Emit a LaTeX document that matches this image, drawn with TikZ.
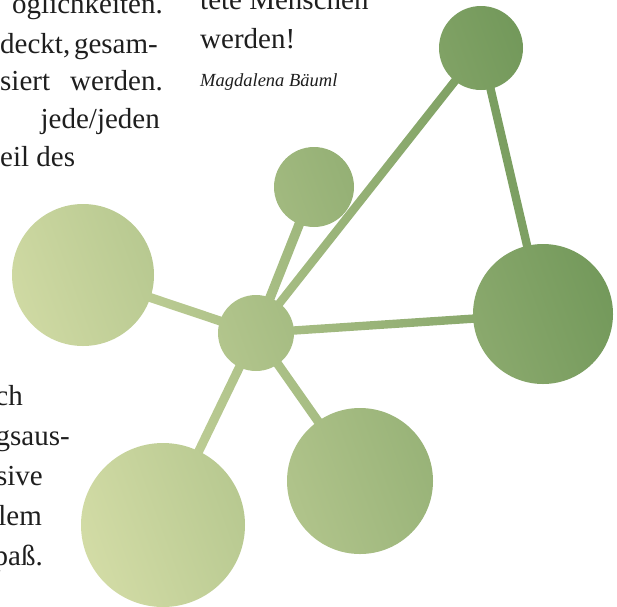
\documentclass[tikz,border=0pt]{standalone}
\usepackage{fontspec}
\setmainfont{Liberation Serif}
\usetikzlibrary{calc}

\definecolor{gLight}{HTML}{D3DCA6}
\definecolor{gDark}{HTML}{72985A}
\definecolor{ink}{HTML}{1E1E1E}

% fill a shape with the common diagonal green gradient
\newcommand\gradfill[1]{%
  \begin{scope}
    \clip #1;
    \begin{scope}[transform canvas={rotate=20}]
      \shade[left color=gLight, right color=gDark] (-112,-1000) rectangle (482,1000);
    \end{scope}
  \end{scope}}

% a straight bar of half width #3 between two named points
\newcommand\barpath[3]{($(#1)!#3!-90:(#2)$) -- ($(#2)!#3!90:(#1)$) -- ($(#2)!#3!-90:(#1)$) -- ($(#1)!#3!90:(#2)$) -- cycle}

\tikzset{
  body/.style={font=\fontsize{29}{35}\selectfont, text=ink, inner sep=0pt},
  sig/.style={font=\fontsize{18.5}{22}\selectfont\itshape, text=ink, inner sep=0pt},
}

\begin{document}
\begin{tikzpicture}[x=1pt,y=-1pt]
\useasboundingbox (0,0) rectangle (617,606);
\clip (0,0) rectangle (617,606);

% centres of the network
\coordinate (H) at (256,333);
\coordinate (T) at (481,48);
\coordinate (R) at (543,314);
\coordinate (S) at (314,187);
\coordinate (L) at (83,275);
\coordinate (B) at (163,525);
\coordinate (C) at (360,481);

% connecting bars
\gradfill{\barpath{H}{T}{4.2pt}}
\gradfill{\barpath{T}{R}{4.2pt}}
\gradfill{\barpath{H}{R}{4.2pt}}
\gradfill{\barpath{H}{S}{4.8pt}}
\gradfill{\barpath{H}{L}{4.5pt}}
\gradfill{\barpath{H}{B}{4.5pt}}
\gradfill{\barpath{H}{C}{4.5pt}}

% circles
\gradfill{(H) circle[radius=38pt]}
\gradfill{(T) circle[radius=42pt]}
\gradfill{(R) circle[radius=70pt]}
\gradfill{(S) circle[radius=40pt]}
\gradfill{(L) circle[radius=71pt]}
\gradfill{(B) circle[radius=82pt]}
\gradfill{(C) circle[radius=73pt]}

% text column on the left (justified lines set word by word)
\node[body, anchor=base east] (t1) at (163,13) {öglichkeiten.};
\node[body, anchor=base west] (t2a) at (0,53) {deckt,};
\node[body, anchor=base east] (t2b) at (158,53) {gesam-};
\node[body, anchor=base west] (t3a) at (0,90) {siert};
\node[body, anchor=base east] (t3b) at (163,90) {werden.};
\node[body, anchor=base east] (t4) at (160,128) {jede/jeden};
\node[body, anchor=base west] (t5) at (0,166) {eil des};
\node[body, anchor=base east] (t6) at (23,405) {ch};
\node[body, anchor=base east] (t7) at (70,445) {gsaus-};
\node[body, anchor=base east] (t8) at (43,485) {nsive};
\node[body, anchor=base east] (t9) at (42,525) {lem};
\node[body, anchor=base east] (t10) at (43,565) {paß.};

% quotation on the right
\node[body, anchor=base west] (q1) at (200,9) {tete Menschen};
\node[body, anchor=base west] (q2) at (200,48) {werden!};
\node[sig, anchor=base west] (q3) at (200,86) {Magdalena Bäuml};
\end{tikzpicture}
\end{document}
